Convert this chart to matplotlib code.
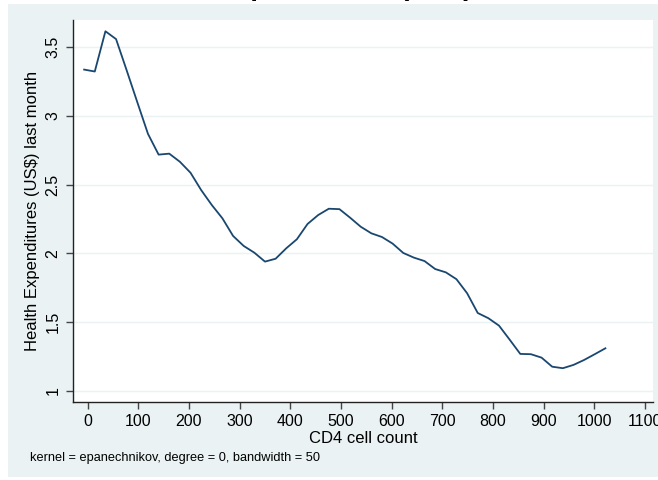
import matplotlib.pyplot as plt
from matplotlib.patches import Rectangle

plt.rcParams['font.family'] = ['Liberation Sans', 'DejaVu Sans']

# lpoly grid (CD4 cell count) and smoothed health expenditure
cd4 = [-7, 14, 35, 56, 77, 98, 119, 140, 161, 182,
       203, 224, 245, 266, 287, 308, 329, 350, 371, 392,
       413, 434, 455, 476, 497, 518, 539, 560, 581, 602,
       623, 644, 665, 686, 707, 728, 749, 770, 791, 812,
       833, 854, 875, 896, 917, 938, 959, 980, 1001, 1022]
expend = [3.338, 3.324, 3.617, 3.560, 3.332, 3.100, 2.870, 2.719, 2.726, 2.667,
          2.587, 2.461, 2.352, 2.255, 2.127, 2.054, 2.005, 1.940, 1.961, 2.037,
          2.103, 2.214, 2.279, 2.325, 2.322, 2.260, 2.194, 2.146, 2.119, 2.071,
          2.003, 1.969, 1.944, 1.886, 1.862, 1.812, 1.710, 1.566, 1.528, 1.474,
          1.372, 1.268, 1.266, 1.241, 1.175, 1.164, 1.188, 1.224, 1.266, 1.309]

xticks = [0, 100, 200, 300, 400, 500, 600, 700, 800, 900, 1000, 1100]
yticks = [1, 1.5, 2, 2.5, 3, 3.5]
ytick_labels = ['1', '1.5', '2', '2.5', '3', '3.5']

bg = '#eaf2f3'
navy = '#1a476f'

fig = plt.figure(figsize=(6.58, 4.80), dpi=100)
fig.patch.set_facecolor('white')
# graph region
region = Rectangle((8 / 658, 0.006), 1.0, 0.9855, transform=fig.transFigure,
                   facecolor=bg, edgecolor='none', zorder=-1)
fig.add_artist(region)

fig.text(0.453, 1.011, 'Health Expenditures (US$)', fontsize=20, ha='center',
         va='baseline', fontweight='bold')

ax = fig.add_axes([73 / 658, 1 - 402 / 480, 580 / 658, 382 / 480])
ax.set_zorder(2)
ax.set_facecolor('white')
ax.plot(cd4, expend, color=navy, lw=1.3, zorder=3)

ax.set_xlim(-29, 1116)
ax.set_ylim(0.918, 3.699)
ax.set_xticks(xticks)
ax.set_yticks(yticks)
ax.set_yticklabels(ytick_labels, rotation=90, va='center')
ax.grid(axis='y', color=bg, lw=1.0)
ax.grid(axis='x', visible=False)
ax.set_axisbelow(True)

for s in ['top', 'right']:
    ax.spines[s].set_visible(False)
for s in ['left', 'bottom']:
    ax.spines[s].set_color('#222222')
    ax.spines[s].set_linewidth(1.0)
ax.tick_params(axis='both', direction='out', length=5, width=1.0, color='#444444',
               labelsize=11.5, pad=4)

ax.set_xlabel('CD4 cell count', fontsize=12, labelpad=1)
ax.set_ylabel('Health Expenditures (US$) last month', fontsize=12, labelpad=4)

fig.text(30 / 658, 1 - 458 / 480, 'kernel = epanechnikov, degree = 0, bandwidth = 50',
         fontsize=9.2, ha='left', va='center', zorder=3)

fig.savefig('out.png', dpi=100)
